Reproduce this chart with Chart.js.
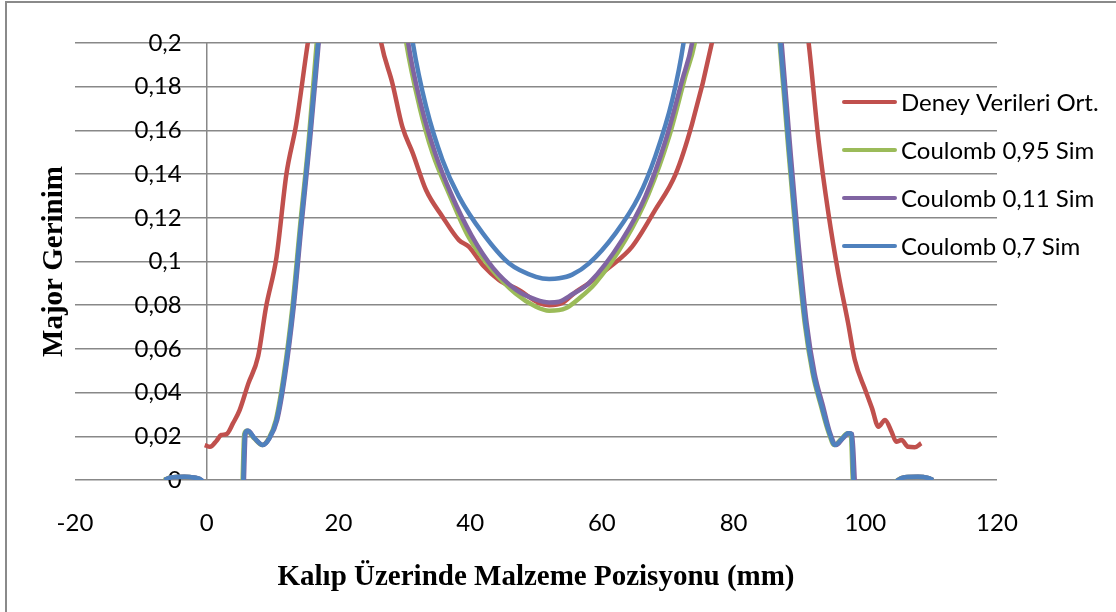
<!DOCTYPE html>
<html>
<head>
<meta charset="utf-8">
<script src="https://cdn.jsdelivr.net/npm/chart.js@4.4.1/dist/chart.umd.min.js"></script>
<style>
  html, body { margin: 0; padding: 0; background: #fff; }
  #wrap { position: relative; width: 1116px; height: 612px; }
</style>
</head>
<body>
<div id="wrap"><canvas id="strainChart" width="1116" height="612"></canvas></div>
<script>
// Seri isimleri ve renkler
const seriesNames = ['Deney Verileri Ort.', 'Coulomb 0,95 Sim', 'Coulomb 0,11 Sim', 'Coulomb 0,7 Sim'];
const seriesColors = ['#C0504D', '#9BBB59', '#8064A2', '#4F81BD'];

// Eksen tikleri
const xTicks = [-20, 0, 20, 40, 60, 80, 100, 120];
const yTicks = [0, 0.02, 0.04, 0.06, 0.08, 0.1, 0.12, 0.14, 0.16, 0.18, 0.2];

// Deney verileri (ortalama)
const deneyX = [-0.3, 0.5, 1.5, 2.2, 3.0, 4.0, 5.0, 6.3, 7.8, 9.0, 10.6, 12.1, 13.6, 15.35, 17, 21, 25, 26.5, 28.2, 29.7, 31.3, 33.3, 35.8, 38.3, 39.8, 42, 44.4, 47.4, 50.5, 52, 54, 56, 58, 61, 64.6, 68.1, 71.2, 73.7, 76.7, 78.5, 84.5, 90, 91.4, 92.9, 94.4, 95.9, 97.4, 98.4, 100, 101, 102, 103, 104, 104.7, 105.5, 106.5, 107.5, 108.5];
const deneyY = [0.016, 0.0152, 0.018, 0.0206, 0.021, 0.026, 0.032, 0.044, 0.0565, 0.079, 0.102, 0.140, 0.163, 0.2, 0.23, 0.28, 0.23, 0.2, 0.1815, 0.1617, 0.1495, 0.1327, 0.1205, 0.1098, 0.1068, 0.098, 0.0915, 0.087, 0.0809, 0.080, 0.081, 0.086, 0.09, 0.097, 0.1068, 0.1236, 0.140, 0.163, 0.2, 0.23, 0.28, 0.23, 0.2, 0.1556, 0.122, 0.0946, 0.0717, 0.055, 0.0412, 0.033, 0.0244, 0.0275, 0.022, 0.0175, 0.0183, 0.0152, 0.015, 0.0168];

// Coulomb 0,95
const c095X = [-6.5, -5.5, -3.5, -1.8, -0.9, 0, 2.5, 5.3, 5.7, 6.1, 7.2, 8.4, 9.4, 10.5, 11.7, 13.0, 14.2, 15.5, 16.7, 18, 23, 28.5, 30.3, 32.3, 34.3, 36.8, 39.8, 43.4, 46.9, 50, 52, 54.5, 56.5, 59, 63.6, 67.1, 70.2, 72.7, 74.1, 76, 81, 85.8, 87.0, 88.2, 89.5, 90.8, 92.0, 93.3, 94.4, 95.3, 96.4, 97.3, 97.8, 98.1, 98.4, 102, 104.9, 106, 108, 109.5, 110.3];
const c095Y = [0, 0.0012, 0.0015, 0.001, 0, -0.006, -0.01, -0.01, 0.021, 0.0225, 0.019, 0.016, 0.019, 0.0275, 0.048, 0.079, 0.117, 0.156, 0.2, 0.24, 0.3, 0.24, 0.2, 0.171, 0.1495, 0.131, 0.111, 0.096, 0.0854, 0.0793, 0.0775, 0.0786, 0.083, 0.09, 0.11, 0.131, 0.157, 0.185, 0.2, 0.24, 0.3, 0.24, 0.2, 0.1556, 0.11, 0.0717, 0.0488, 0.0336, 0.022, 0.016, 0.019, 0.0214, 0.021, 0.0, -0.01, -0.01, 0, 0.0013, 0.0015, 0.001, 0];

// Coulomb 0,11
const c011X = [-6.4, -5.4, -3.4, -1.7, -0.8, 0, 2.5, 5.5, 5.9, 6.3, 7.3, 8.5, 9.5, 10.7, 11.9, 13.2, 14.4, 15.7, 17.0, 18.2, 23, 29, 30.6, 32.6, 34.7, 37.1, 40.2, 43.5, 47, 50, 52, 53.5, 55.5, 58, 63.1, 66.6, 69.7, 72.2, 73.7, 75.5, 81, 86, 87.3, 88.5, 89.8, 91.1, 92.3, 93.6, 94.6, 95.6, 96.6, 97.5, 98.0, 98.4, 98.6, 102, 105.0, 106, 108, 109.5, 110.3];
const c011Y = [0, 0.0012, 0.0015, 0.001, 0, -0.006, -0.01, -0.01, 0.021, 0.0225, 0.019, 0.016, 0.019, 0.0275, 0.048, 0.079, 0.117, 0.156, 0.2, 0.24, 0.3, 0.24, 0.2, 0.171, 0.1495, 0.131, 0.112, 0.097, 0.087, 0.0825, 0.0812, 0.0816, 0.085, 0.09, 0.11, 0.1297, 0.1556, 0.183, 0.2, 0.24, 0.3, 0.24, 0.2, 0.1556, 0.11, 0.0717, 0.0488, 0.0336, 0.022, 0.016, 0.019, 0.0214, 0.021, 0.0, -0.01, -0.01, 0, 0.0013, 0.0015, 0.001, 0];

// Coulomb 0,7
const c07X = [-6.4, -5.4, -3.4, -1.7, -0.8, 0, 2.5, 5.4, 5.8, 6.2, 7.3, 8.5, 9.5, 10.6, 11.8, 13.1, 14.3, 15.6, 16.9, 18.2, 24, 29.5, 31.3, 33.3, 35.8, 38.3, 41.9, 45.9, 50, 52, 53.5, 55.5, 58, 62.1, 65.6, 68.1, 70.7, 72.4, 74, 80, 85.8, 87.1, 88.3, 89.6, 90.9, 92.1, 93.4, 94.5, 95.4, 96.5, 97.4, 97.9, 98.2, 98.5, 102, 105.0, 106, 108, 109.5, 110.3];
const c07Y = [0, 0.0012, 0.0015, 0.001, 0, -0.006, -0.01, -0.01, 0.021, 0.0225, 0.019, 0.016, 0.019, 0.0275, 0.048, 0.079, 0.117, 0.156, 0.2, 0.24, 0.3, 0.24, 0.2, 0.171, 0.1465, 0.1297, 0.113, 0.0992, 0.093, 0.092, 0.0923, 0.094, 0.099, 0.113, 0.1297, 0.148, 0.174, 0.2, 0.24, 0.3, 0.24, 0.2, 0.1556, 0.11, 0.0717, 0.0488, 0.0336, 0.022, 0.016, 0.019, 0.0214, 0.021, 0.0, -0.01, -0.01, 0, 0.0013, 0.0015, 0.001, 0];

const seriesX = [deneyX, c095X, c011X, c07X];
const seriesY = [deneyY, c095Y, c011Y, c07Y];

function toPoints(xs, ys) {
    return xs.map((x, i) => ({ x: x, y: ys[i] }));
}

function fmtComma(v) {
    return String(Number(v.toFixed(2))).replace('.', ',');
}

// Cerceve, y ekseni basligi ve lejant icin eklenti
const decorPlugin = {
    id: 'decor',
    beforeDraw(chart) {
        const ctx = chart.ctx;
        ctx.save();
        ctx.fillStyle = '#ffffff';
        ctx.fillRect(0, 0, chart.width, chart.height);
        ctx.strokeStyle = '#8a8a8a';
        ctx.lineWidth = 2;
        ctx.beginPath();
        ctx.moveTo(6, chart.height);
        ctx.lineTo(6, 2);
        ctx.lineTo(chart.width, 2);
        ctx.stroke();
        ctx.restore();
    },
    afterDraw(chart) {
        const ctx = chart.ctx;
        const area = chart.chartArea;
        ctx.save();
        // y ekseni basligi
        ctx.translate(55, (area.top + area.bottom) / 2);
        ctx.rotate(-Math.PI / 2);
        ctx.font = 'bold 29px "Liberation Serif", "Times New Roman", serif';
        ctx.fillStyle = '#000';
        ctx.textAlign = 'center';
        ctx.textBaseline = 'middle';
        ctx.fillText('Major Gerinim', 0, 0);
        ctx.restore();

        // lejant
        ctx.save();
        ctx.font = '24px Lato, "Open Sans", sans-serif';
        ctx.textBaseline = 'middle';
        ctx.textAlign = 'left';
        const rows = [102, 150, 198, 246];
        chart.data.datasets.forEach((ds, i) => {
            const y = rows[i];
            ctx.strokeStyle = ds.borderColor;
            ctx.lineWidth = 4;
            ctx.lineCap = 'round';
            ctx.beginPath();
            ctx.moveTo(844, y);
            ctx.lineTo(895, y);
            ctx.stroke();
            ctx.fillStyle = '#000';
            ctx.fillText(ds.label, 901, y + 1);
        });
        ctx.restore();
    }
};

document.addEventListener('DOMContentLoaded', function() {
    const el = document.getElementById('strainChart');
    const datasets = seriesNames.map((name, i) => ({
        label: name,
        data: toPoints(seriesX[i], seriesY[i]),
        borderColor: seriesColors[i],
        backgroundColor: seriesColors[i],
        borderWidth: 4.5,
        pointRadius: 0,
        showLine: true,
        fill: false,
        cubicInterpolationMode: 'monotone',
        clip: 0,
        order: seriesNames.length - 1 - i
    }));

    new Chart(el, {
        type: 'scatter',
        data: { datasets: datasets },
        plugins: [decorPlugin],
        options: {
            responsive: false,
            animation: false,
            devicePixelRatio: 1,
            layout: { padding: { left: 75, right: 119, top: 43, bottom: 0 } },
            plugins: {
                legend: { display: false },
                tooltip: { enabled: false }
            },
            scales: {
                x: {
                    type: 'linear',
                    min: -20,
                    max: 120,
                    afterBuildTicks: (scale) => { scale.ticks = xTicks.map(v => ({ value: v })); },
                    afterFit: (scale) => { scale.height = 132; },
                    // sadece x=0 dikey cizgisi gorunur
                    grid: {
                        drawTicks: false,
                        lineWidth: 1.5,
                        color: (c) => (c.tick && c.tick.value === 0) ? '#888888' : 'rgba(0,0,0,0)'
                    },
                    border: { display: false },
                    ticks: {
                        padding: 29,
                        color: '#000',
                        font: { family: 'Lato, "Open Sans", sans-serif', size: 24 },
                        callback: (v) => String(v)
                    },
                    title: {
                        display: true,
                        text: 'Kalıp Üzerinde Malzeme Pozisyonu (mm)',
                        color: '#000',
                        font: { family: '"Liberation Serif", "Times New Roman", serif', size: 29, weight: 'bold' },
                        padding: { top: 0, bottom: 17 }
                    }
                },
                y: {
                    type: 'linear',
                    // etiketler x=0 cizgisinin biraz solunda
                    position: { x: -3.8 },
                    min: 0,
                    max: 0.2,
                    afterBuildTicks: (scale) => { scale.ticks = yTicks.map(v => ({ value: v })); },
                    grid: { color: '#888888', lineWidth: 1.5, drawTicks: false },
                    border: { display: false },
                    ticks: {
                        color: '#000',
                        font: { family: 'Lato, "Open Sans", sans-serif', size: 24 },
                        callback: (v) => fmtComma(v)
                    },
                    title: { display: false }
                }
            }
        }
    });
});
</script>
</body>
</html>
